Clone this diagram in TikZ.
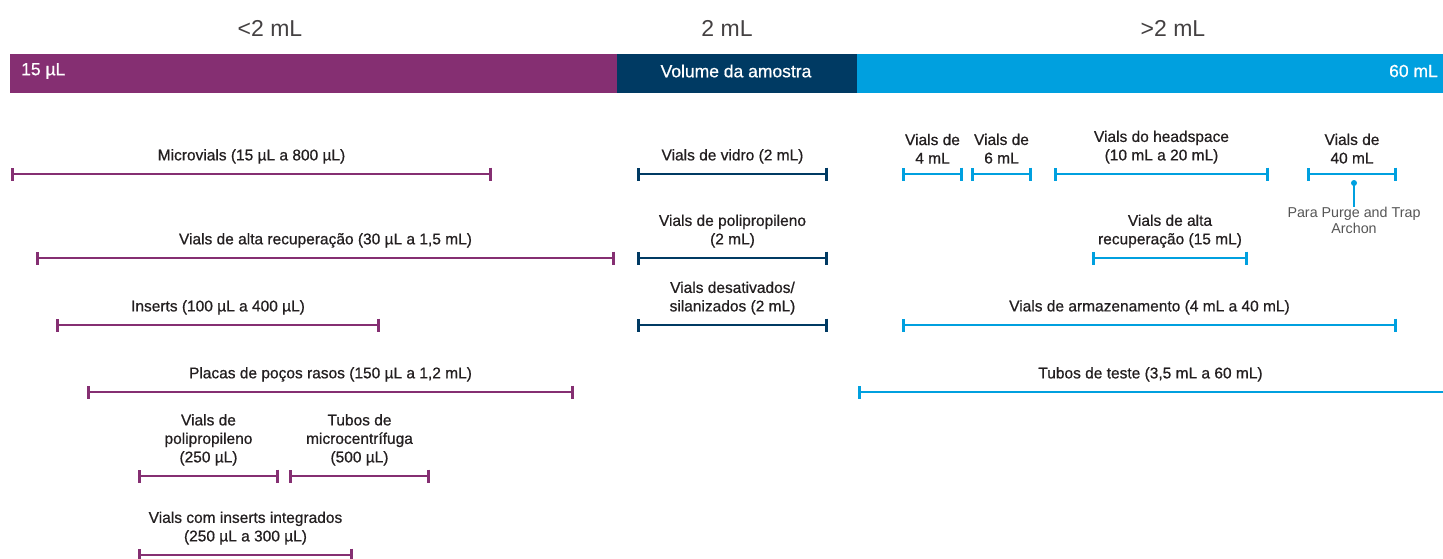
\documentclass[tikz,border=0pt]{standalone}
\usepackage{fontspec}
\setmainfont{Liberation Sans}
\newfontfamily\medfont{Liberation Sans}[FakeBold=0.7]
\usepackage{xcolor}
\definecolor{agPurple}{HTML}{852F72}
\definecolor{agNavy}{HTML}{003A63}
\definecolor{agBlue}{HTML}{00A0DF}
\definecolor{agText}{HTML}{231F20}
\definecolor{agGray}{HTML}{555555}
\usepackage{tikz}
\usetikzlibrary{arrows.meta}
\tikzset{vialrange/.style={line width=2.8pt, {Bar[width=13pt]}-{Bar[width=13pt]}}}
\tikzset{openrange/.style={line width=2.8pt, {Bar[width=13pt]}-}}
\tikzset{rlabel/.style={above=9pt, inner sep=0pt, align=center, text=agText, font=\medfont\fontsize{15.5}{18.5}\selectfont}}
\tikzset{header/.style={inner sep=0pt, text=agText!85, font=\fontsize{23}{26}\selectfont}}
\tikzset{bartext/.style={inner sep=0pt, text=white, font=\medfont\fontsize{17.5}{20}\selectfont}}
% name, colour, x left, x right, y, label
\newcommand{\vrange}[6]{%
  \coordinate (#1-l) at (#3,#5);
  \coordinate (#1-r) at (#4,#5);
  \draw[vialrange, #2] (#1-l) -- node[rlabel] (#1) {#6} (#1-r);}

\begin{document}
\begin{tikzpicture}[x=1pt, y=-1pt]
\useasboundingbox (0,0) rectangle (1443,559);
% headers
\node[header] (less) at (270,28) {<2 mL};
\node[header] (equal) at (727,28) {2 mL};
\node[header] (more) at (1173,28) {>2 mL};
% volume bar
\fill[agPurple] (10,54) rectangle (617,93);
\fill[agNavy] (617,54) rectangle (857,93);
\fill[agBlue] (857,54) rectangle (1443,93);
\node[bartext, anchor=west] (min) at (21,71) {15 µL};
\node[bartext] (vol) at (736,71) {Volume da amostra};
\node[bartext, anchor=east] (max) at (1438,71) {60 mL};
% below 2 mL
\vrange{micro}{agPurple}{11}{492}{174}{Microvials (15 µL a 800 µL)}
\vrange{altarec}{agPurple}{36}{615}{258}{Vials de alta recuperação (30 µL a 1,5 mL)}
\vrange{inserts}{agPurple}{56}{380}{325}{Inserts (100 µL a 400 µL)}
\vrange{placas}{agPurple}{87}{574}{392}{Placas de poços rasos (150 µL a 1,2 mL)}
\vrange{pp250}{agPurple}{138}{279}{476}{Vials de\\polipropileno\\(250 µL)}
\vrange{micfug}{agPurple}{289}{430}{476}{Tubos de\\microcentrífuga\\(500 µL)}
\vrange{integ}{agPurple}{138}{353}{555}{Vials com inserts integrados\\(250 µL a 300 µL)}
% 2 mL
\vrange{vidro}{agNavy}{637}{828}{174}{Vials de vidro (2 mL)}
\vrange{pp2}{agNavy}{637}{828}{258}{Vials de polipropileno\\(2 mL)}
\vrange{silan}{agNavy}{637}{828}{325}{Vials desativados/\\silanizados (2 mL)}
% above 2 mL
\vrange{v4}{agBlue}{902}{963}{174}{Vials de\\4 mL}
\vrange{v6}{agBlue}{971}{1032}{174}{Vials de\\6 mL}
\vrange{head}{agBlue}{1054}{1269}{174}{Vials do headspace\\(10 mL a 20 mL)}
\vrange{v40}{agBlue}{1307}{1397}{174}{Vials de\\40 mL}
\vrange{altarec15}{agBlue}{1092}{1248}{258}{Vials de alta\\recuperação (15 mL)}
\vrange{armaz}{agBlue}{902}{1397}{325}{Vials de armazenamento (4 mL a 40 mL)}
\coordinate (teste-l) at (858,392);
\coordinate (teste-r) at (1443,392);
\draw[openrange, agBlue] (teste-l) -- node[rlabel] (teste) {Tubos de teste (3,5 mL a 60 mL)} (teste-r);
% purge and trap note
\coordinate (pin) at (1354,183);
\node[inner sep=0pt, align=center, text=agGray, anchor=north, font=\fontsize{14.3}{16}\selectfont] (purge) at (1354,207) {Para Purge and Trap\\Archon};
\fill[agBlue] (pin) circle (3pt);
\draw[agBlue, line width=1.4pt] (pin) -- (purge.north);
\end{tikzpicture}
\end{document}
